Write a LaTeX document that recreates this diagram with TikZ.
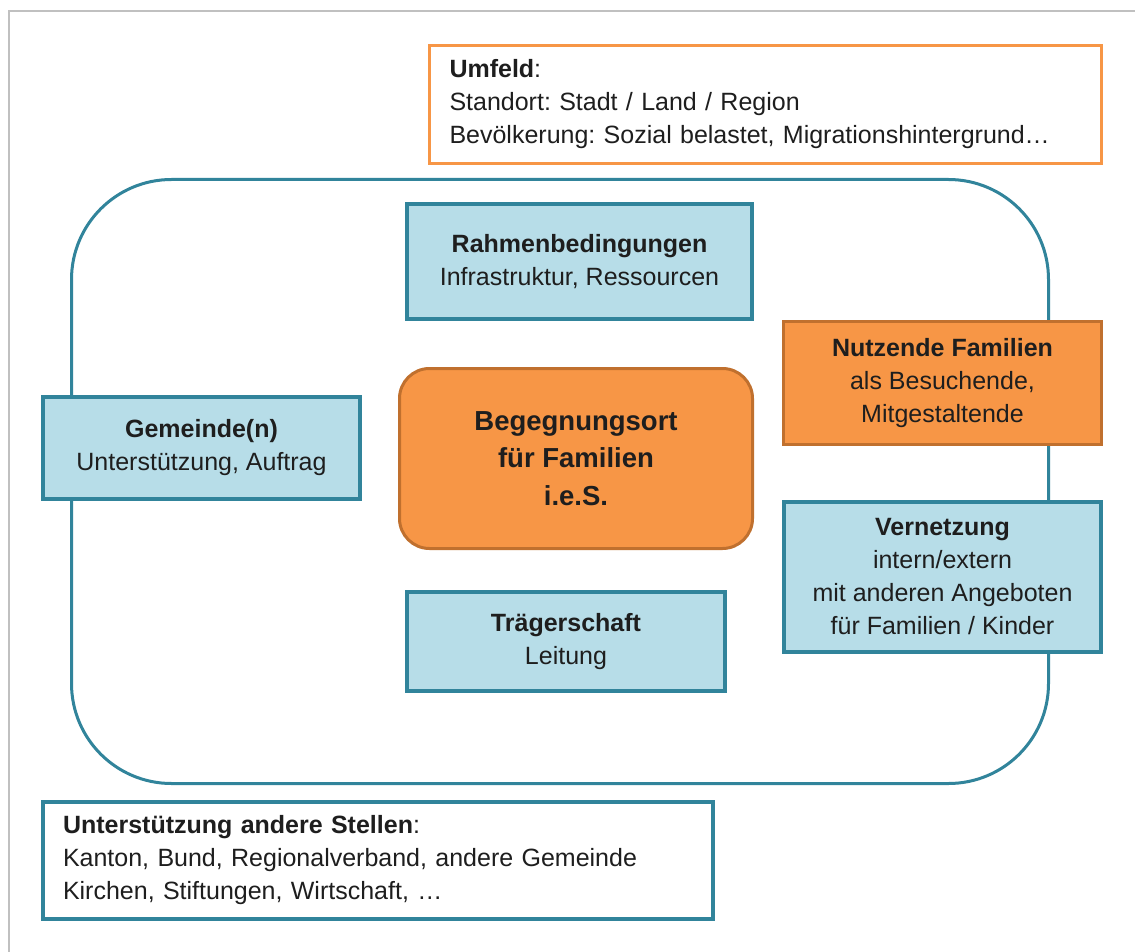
\documentclass[tikz,border=0pt]{standalone}
\usepackage{fontspec}
\setmainfont{Liberation Sans}
\frenchspacing
\definecolor{mTeal}{HTML}{31849B}
\definecolor{mBlue}{HTML}{B7DDE8}
\definecolor{mOrange}{HTML}{F79646}
\definecolor{mOrangeDark}{HTML}{C0702E}
\definecolor{mFrame}{HTML}{C0C0C0}
\definecolor{mText}{HTML}{1E1E1E}
\begin{document}
\begin{tikzpicture}[x=1pt,y=-1pt,
  basefont/.style={font=\fontsize{25}{33}\selectfont, text=mText},
  bluebox/.style={basefont, draw=mTeal, fill=mBlue, line width=3.5pt, align=center, inner sep=0pt},
  orangebox/.style={basefont, draw=mOrangeDark, fill=mOrange, line width=3pt, align=center, inner sep=0pt},
  infobox/.style={basefont, fill=white, line width=3pt, align=left, inner ysep=0pt, inner xsep=20pt},
]
\useasboundingbox (0,0) rectangle (1135,952);
\fill[white] (0,0) rectangle (1135,952);
% gray frame
\draw[mFrame, line width=2pt] (9,952) -- (9,11) -- (1135,11);

% outer rounded area
\node[draw=mTeal, line width=3pt, rounded corners=100pt, minimum width=977pt, minimum height=604pt, inner sep=0pt] (outer) at (560,481.5) {};

% Umfeld
\node[infobox, draw=mOrange, text width=632pt, minimum height=118pt] (umfeld) at (765.5,104.5)
  {\textbf{Umfeld}:\\Standort: Stadt / Land / Region\\Bevölkerung: Sozial belastet, Migrationshintergrund…};

% inner boxes
\node[bluebox, minimum width=345pt, minimum height=115pt] (rahmen) at (579.5,261.5)
  {\textbf{Rahmenbedingungen}\\Infrastruktur, Ressourcen};
\node[orangebox, minimum width=318pt, minimum height=123pt] (nutzende) at (942.5,383)
  {\textbf{Nutzende Familien}\\als Besuchende,\\Mitgestaltende};
\node[bluebox, minimum width=317pt, minimum height=102pt] (gemeinde) at (201.5,448)
  {\textbf{Gemeinde(n)}\\Unterstützung, Auftrag};
\node[orangebox, rounded corners=30pt, minimum width=353pt, minimum height=180pt,
  font=\fontsize{27.5}{37.5}\selectfont\bfseries] (begegnung) at (576,458.5)
  {Begegnungsort\\für Familien\\i.e.S.};
\node[bluebox, minimum width=317pt, minimum height=150pt] (vernetzung) at (942.5,577)
  {\textbf{Vernetzung}\\intern/extern\\mit anderen Angeboten\\für Familien / Kinder};
\node[bluebox, minimum width=318pt, minimum height=99pt] (traeger) at (566,641.5)
  {\textbf{Trägerschaft}\\Leitung};

% Unterstuetzung andere Stellen
\node[infobox, draw=mTeal, line width=3.5pt, text width=630pt, minimum height=117pt] (stellen) at (378,860.5)
  {\textbf{Unterstützung andere Stellen}:\\Kanton, Bund, Regionalverband, andere Gemeinde\\Kirchen, Stiftungen, Wirtschaft, …};
\end{tikzpicture}
\end{document}
